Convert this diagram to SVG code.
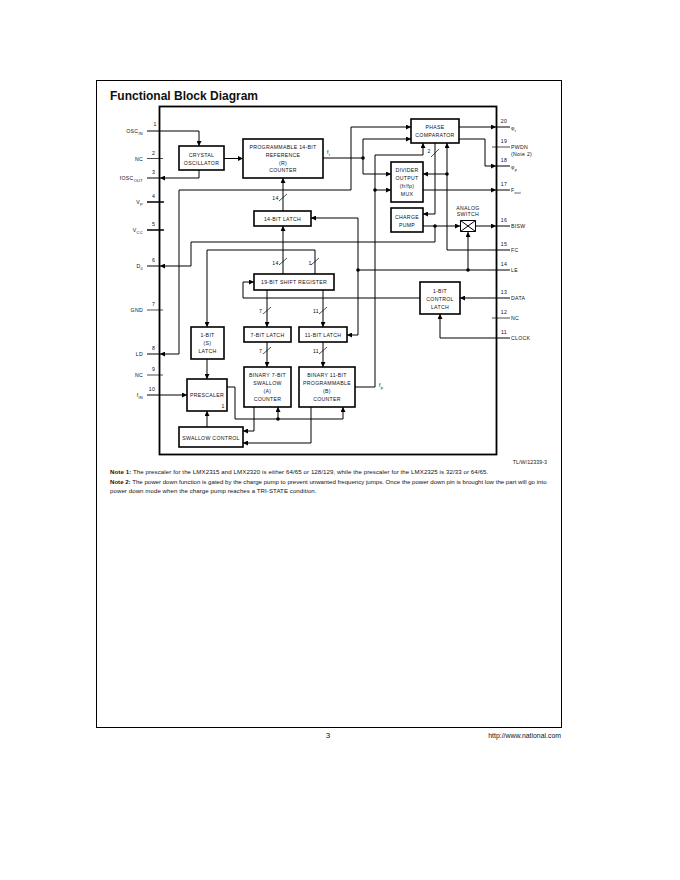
<svg xmlns="http://www.w3.org/2000/svg" width="680" height="880" viewBox="0 0 680 880">
<style>
text{font-family:"Liberation Sans",Arial,sans-serif;fill:#111}
.d{font-size:5.200px;letter-spacing:.3px}
.m{text-anchor:middle}
.e{text-anchor:end}
.s{font-size:4px}
.b{fill:#fff;stroke:#000;stroke-width:1.6}
.n{font-size:5.400px;fill:#222}
.c path{fill:none;stroke:#000;stroke-width:1}
.a{marker-end:url(#ar)}
.h{stroke-width:.7!important}
</style>
<defs>
<marker id="ar" markerUnits="userSpaceOnUse" markerWidth="5" markerHeight="5" refX="5" refY="2.5" orient="auto"><path d="M0 0L5 2.5L0 5Z" fill="#000" stroke="none"/></marker>
</defs>
<rect width="680" height="880" fill="#fff"/>
<rect x="96.500" y="80.500" width="465" height="647" fill="none" stroke="#000" stroke-width="1"/>
<text x="110" y="99.500" font-size="12" font-weight="700">Functional Block Diagram</text>
<rect id="chip" x="159.500" y="106.500" width="337" height="348" fill="none" stroke="#000" stroke-width="1.800"/>

<g id="connectors">
<g class="c">
<path class="a" d="M147 131H199V146"/>
<path class="h" d="M147 158.500H163"/>
<path class="a" d="M199 170V178H160"/>
<path d="M147 178H160"/>
<path d="M147 202H164M147 230H164" style="stroke-width:1.300"/>
<path class="a" d="M435 226V242H191V266H160"/>
<path d="M147 266H160"/>
<path class="a" d="M224 158.500H243"/>
<path class="a" d="M283 211V178"/>
<path d="M323 158H363"/>
<path class="a" d="M363 158V139H411"/>
<path class="a" d="M363 158V174H391"/>
<path d="M179 354V190H351V127H411" class="a"/>
<path class="a" d="M179 354H160"/>
<path d="M147 354H160"/>
<path class="a" d="M423 190H496"/><path d="M496 190H510"/>
<path class="a" d="M375 190H391"/>
<path class="a" d="M355 387H375V155H423V143"/>
<path d="M510 250H447"/>
<path class="a" d="M447 250V143"/>
<path class="a" d="M447 174H423"/>
<path class="a" d="M435 143V214H423"/>
<path class="a" d="M459 127H496"/><path d="M496 127H510"/>
<path class="a" d="M459 139H485V166H496"/><path d="M496 166H510"/>
<path class="h" d="M492 147H510"/>
<path class="a" d="M423 226H460"/>
<path class="a" d="M476 226H496"/><path d="M496 226H510"/>
<path d="M358 270H510"/>
<path class="a" d="M468 270V232"/>
<path class="a" d="M358 218H311"/>
<path class="a" d="M358 218V335H347"/>
<path class="a" d="M283 274V226"/>
<path class="a" d="M315 274V250H207V327"/>
<path class="a" d="M420 298H243V282H254"/>
<path class="a" d="M510 298H460"/>
<path class="h" d="M492 318H510"/>
<path class="a" d="M510 338H440V314"/>
<path class="a" d="M267 290V327"/>
<path class="a" d="M267 342V367"/>
<path class="a" d="M323 290V327"/>
<path class="a" d="M323 342V367"/>
<path class="a" d="M207 359V379"/>
<path class="a" d="M147 395H187"/>
<path class="h" d="M147 375H163M147 310H163"/>
<path class="a" d="M227 387H235V419H343V407"/>
<path class="a" d="M278 419V407"/>
<path class="a" d="M254 407V431H243"/>
<path class="a" d="M311 407V443H243"/>
<path class="a" d="M207 427V411"/>
<path class="h" d="M279 201L287 194M279 265L287 258M311 265L319 258M263 314L271 307M263 354L271 347M319 314L327 307M319 354L327 347M431 157L439 149"/>
</g>
<g fill="#000">
<circle cx="363" cy="158" r="1.800"/><circle cx="375" cy="190" r="1.800"/><circle cx="447" cy="174" r="1.800"/>
<circle cx="435" cy="226" r="1.800"/><circle cx="358" cy="270" r="1.800"/><circle cx="468" cy="270" r="1.800"/><circle cx="278" cy="419" r="1.800"/>
</g>
</g>

<g id="crystal"><rect class="b" x="179" y="146" width="45" height="24"/><text class="d m" x="201.500" y="157">CRYSTAL</text><text class="d m" x="201.500" y="165">OSCILLATOR</text></g>
<g id="r-counter"><rect class="b" x="243" y="139" width="80" height="39"/><text class="d m" x="283" y="149">PROGRAMMABLE 14-BIT</text><text class="d m" x="283" y="157">REFERENCE</text><text class="d m" x="283" y="164.500">(R)</text><text class="d m" x="283" y="172">COUNTER</text></g>
<g id="latch14"><rect class="b" x="254" y="211" width="57" height="15"/><text class="d m" x="282.500" y="220.500">14-BIT LATCH</text></g>
<g id="shift"><rect class="b" x="254" y="274" width="80" height="16"/><text class="d m" x="294" y="284">19-BIT SHIFT REGISTER</text></g>
<g id="latch7"><rect class="b" x="244" y="327" width="47" height="15"/><text class="d m" x="267.500" y="336.500">7-BIT LATCH</text></g>
<g id="latch11"><rect class="b" x="299" y="327" width="48" height="15"/><text class="d m" x="323" y="336.500">11-BIT LATCH</text></g>
<g id="latch1"><rect class="b" x="191" y="327" width="33" height="32"/><text class="d m" x="207.500" y="337">1-BIT</text><text class="d m" x="207.500" y="345">(S)</text><text class="d m" x="207.500" y="353">LATCH</text></g>
<g id="swallow"><rect class="b" x="244" y="367" width="47" height="40"/><text class="d m" x="267.500" y="376.500">BINARY 7-BIT</text><text class="d m" x="267.500" y="385">SWALLOW</text><text class="d m" x="267.500" y="393">(A)</text><text class="d m" x="267.500" y="401">COUNTER</text></g>
<g id="prog"><rect class="b" x="299" y="367" width="56" height="40"/><text class="d m" x="327" y="376.500">BINARY 11-BIT</text><text class="d m" x="327" y="385">PROGRAMMABLE</text><text class="d m" x="327" y="393">(B)</text><text class="d m" x="327" y="401">COUNTER</text></g>
<g id="prescaler"><rect class="b" x="187" y="379" width="40" height="32"/><text class="d m" x="207" y="397">PRESCALER</text><text class="d" x="221.500" y="408">1</text></g>
<g id="swallow-control"><rect class="b" x="179" y="427" width="64" height="20"/><text class="d m" x="211" y="439.500">SWALLOW CONTROL</text></g>
<g id="control-latch"><rect class="b" x="420" y="282" width="40" height="32"/><text class="d m" x="440" y="292.500">1-BIT</text><text class="d m" x="440" y="300.500">CONTROL</text><text class="d m" x="440" y="308.500">LATCH</text></g>
<g id="phase"><rect class="b" x="411" y="119" width="48" height="24"/><text class="d m" x="435" y="129">PHASE</text><text class="d m" x="435" y="137">COMPARATOR</text></g>
<g id="divider"><rect class="b" x="391" y="162" width="32" height="40"/><text class="d m" x="407" y="172">DIVIDER</text><text class="d m" x="407" y="180">OUTPUT</text><text class="d m" x="407" y="188">(fr/fp)</text><text class="d m" x="407" y="196">MUX</text></g>
<g id="pump"><rect class="b" x="391" y="208" width="32" height="24"/><text class="d m" x="407" y="218.500">CHARGE</text><text class="d m" x="407" y="226.500">PUMP</text></g>
<g id="switch"><path d="M460.500 220.500H475.500L460.500 231.500H475.500Z" fill="#fff" stroke="#000"/><path d="M460.500 220.500V231.500M475.500 220.500V231.500" stroke="#000" fill="none"/><text class="d m" x="468" y="210">ANALOG</text><text class="d m" x="468" y="216">SWITCH</text></g>

<g id="labels">
<text class="d m" x="155" y="126">1</text><text class="d e" x="143" y="133">OSC<tspan class="s" dy="1.500">IN</tspan></text>
<text class="d m" x="153.500" y="155">2</text><text class="d e" x="143" y="161">NC</text>
<text class="d m" x="153.500" y="174">3</text><text class="d e" x="143" y="180">fOSC<tspan class="s" dy="1.500">OUT</tspan></text>
<text class="d m" x="153.500" y="198">4</text><text class="d e" x="143" y="204">V<tspan class="s" dy="1.500">P</tspan></text>
<text class="d m" x="153.500" y="226">5</text><text class="d e" x="143" y="232">V<tspan class="s" dy="1.500">CC</tspan></text>
<text class="d m" x="153.500" y="262">6</text><text class="d e" x="143" y="268">D<tspan class="s" dy="1.500">0</tspan></text>
<text class="d m" x="153.500" y="306">7</text><text class="d e" x="143" y="312">GND</text>
<text class="d m" x="153.500" y="350">8</text><text class="d e" x="143" y="356">LD</text>
<text class="d m" x="153.500" y="371">9</text><text class="d e" x="143" y="377">NC</text>
<text class="d m" x="152" y="391">10</text><text class="d e" x="143" y="397">f<tspan class="s" dy="1.500">IN</tspan></text>
<text class="d m" x="504" y="122.500">20</text><text class="d" x="511" y="130">φ<tspan class="s" dy="1.500">r</tspan></text>
<text class="d m" x="504" y="143">19</text><text class="d" x="511" y="149">PWDN</text><text class="d" x="511" y="156">(Note 2)</text>
<text class="d m" x="504" y="162">18</text><text class="d" x="511" y="169">φ<tspan class="s" dy="1.500">p</tspan></text>
<text class="d m" x="504" y="186">17</text><text class="d" x="511" y="192">F<tspan class="s" dy="1.500">out</tspan></text>
<text class="d m" x="504" y="222">16</text><text class="d" x="511" y="228">BISW</text>
<text class="d m" x="504" y="246">15</text><text class="d" x="511" y="252">FC</text>
<text class="d m" x="504" y="266">14</text><text class="d" x="511" y="272">LE</text>
<text class="d m" x="504" y="294">13</text><text class="d" x="511" y="300">DATA</text>
<text class="d m" x="504" y="314">12</text><text class="d" x="511" y="320">NC</text>
<text class="d m" x="504" y="334">11</text><text class="d" x="511" y="340">CLOCK</text>
<text class="d" x="327" y="154">f<tspan class="s" dy="1.500">r</tspan></text>
<text class="d" x="379" y="387">f<tspan class="s" dy="1.500">p</tspan></text>
<text class="d m" x="275.500" y="200">14</text><text class="d m" x="275.500" y="264.500">14</text><text class="d m" x="310" y="264.500">1</text>
<text class="d m" x="260.500" y="313">7</text><text class="d m" x="260.500" y="353">7</text>
<text class="d m" x="316" y="313">11</text><text class="d m" x="316" y="353">11</text>
<text class="d m" x="429" y="153">2</text>
<text class="n e" x="547" y="464">TL/W/12339-3</text>
</g>
<g id="notes" font-size="6.100">
<text x="110" y="474" letter-spacing=".09"><tspan font-weight="700">Note 1:</tspan> The prescaler for the LMX2315 and LMX2320 is either 64/65 or 128/129, while the prescaler for the LMX2325 is 32/33 or 64/65.</text>
<text x="110" y="484"><tspan font-weight="700">Note 2:</tspan> The power down function is gated by the charge pump to prevent unwanted frequency jumps. Once the power down pin is brought low the part will go into</text>
<text x="110" y="492.500" letter-spacing=".07">power down mode when the charge pump reaches a TRI-STATE condition.</text>
</g>
<text x="328" y="738" font-size="8" text-anchor="middle">3</text>
<text x="561" y="738" font-size="6.900" text-anchor="end">http://www.national.com</text>
</svg>
